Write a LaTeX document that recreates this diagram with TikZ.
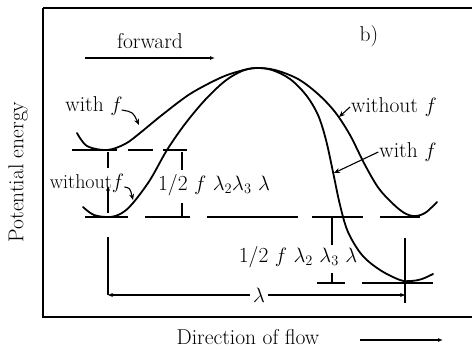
\documentclass[tikz,border=0pt]{standalone}
\usepackage{fontspec}
\usetikzlibrary{arrows.meta}
\begin{document}
\begin{tikzpicture}[x=1pt,y=-1pt,
  lbl/.style={font=\fontsize{21.5}{24}\selectfont, inner sep=1pt},
  curve/.style={line width=1.8pt, line cap=round},
  lev/.style={line width=1.5pt},
  dim/.style={line width=1.1pt},
  tip/.style={-{Stealth[length=6pt,width=5pt]}, line width=1.1pt}]
\useasboundingbox (0,0) rectangle (472,350);
% frame
\draw[line width=1.5pt] (43,8) -- (480,8) (43,8) -- (43,317) -- (480,317);
% texts
\node[lbl] (fw) at (150,41) {forward};
\node[lbl] (b) at (369,36) {b)};
\node[lbl, rotate=90] (pe) at (18,172) {Potential energy};
\node[lbl] (dof) at (248,337) {Direction of flow};
\node[lbl] (wf1) at (94,106) {with $f$};
\node[lbl, font=\fontsize{20}{22}\selectfont] (wof1) at (87,183) {without$f$};
\node[lbl] (wof2) at (394,107) {without $f$};
\node[lbl] (wf2) at (408,152) {with $f$};
\node[lbl] (h1) at (214,185) {1/2 $f\ \lambda_{2}\lambda_{3}\ \lambda$};
\node[lbl] (h2) at (298,257) {1/2 $f\ \lambda_{2}\ \lambda_{3}\ \lambda$};
\node[lbl, fill=white, inner sep=3pt] (lam) at (259,295) {$\lambda$};
% direction arrows
\coordinate (fwA) at (85,58); \coordinate (fwB) at (215,58);
\draw[-{Latex[length=5pt,width=4pt]}, line width=1.1pt] (fwA) -- (fwB);
\coordinate (dA) at (360,340); \coordinate (dB) at (443,340);
\draw[-{Latex[length=5pt,width=4pt]}, line width=1.1pt] (dA) -- (dB);
% curve with f
\draw[curve] plot[smooth, tension=0.55] coordinates {(77,133) (87,146) (107,150) (125,144) (140,133) (162,115) (190,94) (220,78) (240,71) (256,68) (272,70) (290,79) (306,95) (318,115) (326,140) (333,172) (340,205) (348,232) (362,255) (380,270) (400,280) (411,281) (422,279) (433,274)};
% curve without f
\draw[curve] plot[smooth, tension=0.55] coordinates {(83,207) (94,215) (110,217) (122,213) (133,203) (150,180) (167,150) (185,124) (205,100) (225,81) (242,71) (256,68) (275,70) (298,79) (318,94) (335,112) (350,135) (365,165) (380,190) (400,210) (413,216) (425,213) (437,202)};
% levels
\draw[lev] (72,150) -- (117,150) (128,150) -- (153,150) (163,150) -- (187,150);
\draw[lev] (85,217) -- (128,217) (145,217) -- (190,217) (207,217) -- (298,217) (312,217) -- (363,217) (380,217) -- (420,217);
\draw[lev] (317,283) -- (345,283) (362,283) -- (433,283);
% dimension lines
\draw[dim] (108,152) -- (108,168);
\draw[dim, -{Stealth[length=5pt,width=4pt]}] (108,213) -- (108,186);
\draw[dim] (182,152) -- (182,170) (182,203) -- (182,217);
\draw[dim] (332,217) -- (332,245) (332,273) -- (332,283);
\draw[dim] (405,238) -- (405,303);
\coordinate (lL) at (108,295); \coordinate (lR) at (405,295);
\draw[dim] (108,237) -- (lL);
\draw[dim, -{Stealth[length=5pt,width=4pt]}] (lam.west) -- (lL);
\draw[dim, -{Stealth[length=5pt,width=4pt]}] (lam.east) -- (lR);
% label arrows
\coordinate (a1) at (139,125); \coordinate (a2) at (133,200);
\coordinate (a3) at (339,117); \coordinate (a4) at (334,173);
\draw[tip] (wf1.east) ++(-2,4) .. controls (133,112) .. (a1);
\draw[tip] (wof1.east) ++(-1,4) .. controls (130,188) .. (a2);
\draw[tip] (wof2.west) -- (a3);
\draw[tip] (wf2.west) -- (a4);
\end{tikzpicture}
\end{document}
